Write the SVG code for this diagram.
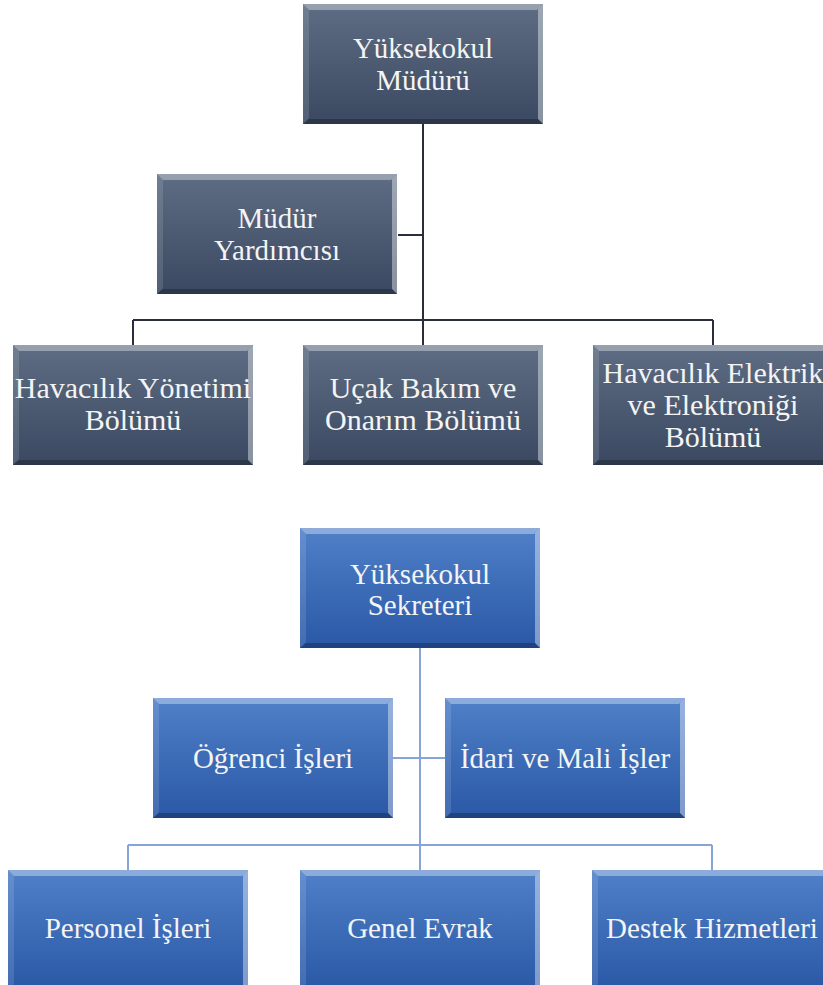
<svg xmlns="http://www.w3.org/2000/svg" xmlns:xlink="http://www.w3.org/1999/xlink" width="823" height="985" viewBox="0 0 823 985">
<style>
.t{font-family:"Liberation Serif","Times New Roman",serif;fill:#f4f4f4;text-anchor:middle}
.a{font-size:29px}
.b{font-size:30px}
.c{font-size:29px}
.lnA{stroke:#2a2e3a;stroke-width:2;fill:none}
.lnB{stroke:#86a4d8;stroke-width:2;fill:none}
.bxA{fill:url(#gA)}
.bxB{fill:url(#gB)}
</style>
<defs>
<linearGradient id="gA" x1="0" y1="0" x2="0" y2="1">
<stop offset="0" stop-color="#5e6d83"/>
<stop offset="1" stop-color="#3a4961"/>
</linearGradient>
<linearGradient id="gB" x1="0" y1="0" x2="0" y2="1">
<stop offset="0" stop-color="#5080c8"/>
<stop offset="1" stop-color="#2a58a6"/>
</linearGradient>
<g id="bevel">
<polygon points="0,0 240,0 234,6 6,6" fill="#ffffff" opacity="0.35"/>
<polygon points="0,0 6,6 6,114 0,120" fill="#ffffff" opacity="0.12"/>
<polygon points="240,0 240,120 235,115 235,5" fill="#ffffff" opacity="0.4"/>
<polygon points="0,120 240,120 235,115 6,115" fill="#000000" opacity="0.25"/>
</g>
</defs>
<rect width="823" height="985" fill="#ffffff"/>
<g id="connectors">
<path class="lnA" d="M423 123 V345 M398 235 H423 M133 320 H713 M133 320 V345 M713 320 V345"/>
<path class="lnB" d="M420 648 V870 M393 758 H445 M128 845 H712 M128 845 V870 M712 845 V870"/>
</g>
<g id="mudur" transform="translate(303,4)">
<rect class="bxA" width="240" height="120"/><use xlink:href="#bevel"/>
<text class="t a" x="120" y="54">Yüksekokul</text>
<text class="t a" x="120" y="86">Müdürü</text>
</g>
<g id="yardimci" transform="translate(157,174)">
<rect class="bxA" width="240" height="120"/><use xlink:href="#bevel"/>
<text class="t a" x="120" y="54">Müdür</text>
<text class="t a" x="120" y="86">Yardımcısı</text>
</g>
<g id="havyon" transform="translate(13,345)">
<rect class="bxA" width="240" height="120"/><use xlink:href="#bevel"/>
<text class="t b" x="120" y="53">Havacılık Yönetimi</text>
<text class="t b" x="120" y="85">Bölümü</text>
</g>
<g id="ucak" transform="translate(303,345)">
<rect class="bxA" width="240" height="120"/><use xlink:href="#bevel"/>
<text class="t b" x="120" y="53">Uçak Bakım ve</text>
<text class="t b" x="120" y="85">Onarım Bölümü</text>
</g>
<g id="havelek" transform="translate(593,345)">
<rect class="bxA" width="240" height="120"/><use xlink:href="#bevel"/>
<text class="t b" x="120" y="38">Havacılık Elektrik</text>
<text class="t b" x="120" y="70">ve Elektroniği</text>
<text class="t b" x="120" y="102">Bölümü</text>
</g>
<g id="sekreter" transform="translate(300,528)">
<rect class="bxB" width="240" height="120"/><use xlink:href="#bevel"/>
<text class="t c" x="120" y="56">Yüksekokul</text>
<text class="t c" x="120" y="87">Sekreteri</text>
</g>
<g id="ogrenci" transform="translate(153,698)">
<rect class="bxB" width="240" height="120"/><use xlink:href="#bevel"/>
<text class="t c" x="120" y="70">Öğrenci  İşleri</text>
</g>
<g id="idari" transform="translate(445,698)">
<rect class="bxB" width="240" height="120"/><use xlink:href="#bevel"/>
<text class="t c" x="120" y="70">İdari ve Mali İşler</text>
</g>
<g id="personel" transform="translate(8,870)">
<rect class="bxB" width="240" height="120"/><use xlink:href="#bevel"/>
<text class="t c" x="120" y="68">Personel  İşleri</text>
</g>
<g id="genel" transform="translate(300,870)">
<rect class="bxB" width="240" height="120"/><use xlink:href="#bevel"/>
<text class="t c" x="120" y="68">Genel Evrak</text>
</g>
<g id="destek" transform="translate(592,870)">
<rect class="bxB" width="240" height="120"/><use xlink:href="#bevel"/>
<text class="t c" x="120" y="68">Destek Hizmetleri</text>
</g>
</svg>
